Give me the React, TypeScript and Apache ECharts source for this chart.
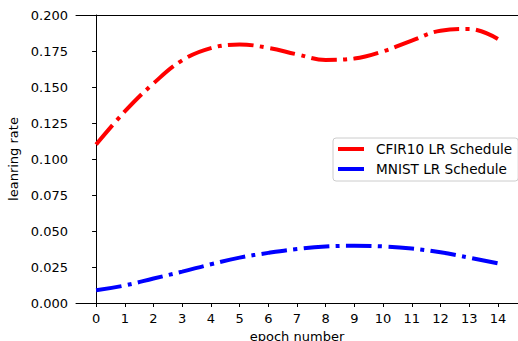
import React, { useEffect, useRef } from "react";
import * as echarts from "echarts";

const epochs = [0, 1, 2, 3, 4, 5, 6, 7, 8, 9, 10, 11, 12, 13, 14];
const cfir10 = [0.110, 0.133, 0.1525, 0.1685, 0.177, 0.1795, 0.1772, 0.1727, 0.1688, 0.1698, 0.1748, 0.1822, 0.1891, 0.1903, 0.1833];
const mnist = [0.0088, 0.0122, 0.0170, 0.0218, 0.0269, 0.0315, 0.0348, 0.0375, 0.0392, 0.0397, 0.0393, 0.0378, 0.0352, 0.0315, 0.0275];
const seriesNames = ["CFIR10 LR Schedule", "MNIST LR Schedule"];
const seriesColors = ["#ff0000", "#0000ff"];
const xTicks = [0, 1, 2, 3, 4, 5, 6, 7, 8, 9, 10, 11, 12, 13, 14];

const FONT = "DejaVu Sans";
const FS = 13;

export default function App() {
  const ref = useRef<HTMLDivElement>(null);
  useEffect(() => {
    document.body.style.margin = "0";
    const chart = echarts.init(ref.current!, undefined, { renderer: "svg" });
    const lineStyle = (color: string) => ({
      color,
      width: 4,
      type: [25.6, 6.4, 4, 6.4],
      cap: "butt",
    });
    chart.setOption({
      animation: false,
      textStyle: { fontFamily: FONT },
      grid: { left: 76, right: 0, top: 15, bottom: 38, containLabel: false, outerBoundsMode: "none" },
      legend: {
        left: 333,
        top: 138,
        orient: "vertical",
        icon: "rect",
        itemWidth: 26,
        itemHeight: 4,
        itemGap: 6,
        padding: [4, 6, 5, 5],
        borderColor: "#cccccc",
        borderWidth: 1,
        borderRadius: 3,
        backgroundColor: "rgba(255,255,255,0.8)",
        textStyle: { fontFamily: FONT, fontSize: 13.6, color: "#000", lineHeight: 14, padding: [0, 0, 0, 7] },
        data: seriesNames,
      },
      xAxis: [
        {
          type: "value",
          min: -0.7,
          max: 14.7,
          name: "epoch number",
          nameLocation: "middle",
          nameGap: 27,
          nameTextStyle: { fontFamily: FONT, fontSize: FS, color: "#000" },
          axisLine: { show: true, lineStyle: { color: "#000", width: 1 } },
          axisTick: { show: true, length: 4, customValues: xTicks, lineStyle: { color: "#000", width: 1 } },
          axisLabel: { customValues: xTicks, margin: 9, fontFamily: FONT, fontSize: FS, color: "#000" },
          splitLine: { show: false },
        },
        {
          type: "value",
          position: "top",
          min: -0.7,
          max: 14.7,
          axisLine: { show: true, lineStyle: { color: "#000", width: 1 } },
          axisTick: { show: false },
          axisLabel: { show: false },
          splitLine: { show: false },
        },
      ],
      yAxis: {
        type: "value",
        min: 0,
        max: 0.2,
        interval: 0.025,
        name: "leanring rate",
        nameLocation: "middle",
        nameGap: 53,
        nameTextStyle: { fontFamily: FONT, fontSize: FS, color: "#000" },
        axisLine: { show: true, lineStyle: { color: "#000", width: 1 } },
        axisTick: { show: true, length: 4, lineStyle: { color: "#000", width: 1 } },
        axisLabel: {
          margin: 8,
          fontFamily: FONT,
          fontSize: FS,
          color: "#000",
          formatter: (v: number) => v.toFixed(3),
        },
        splitLine: { show: false },
      },
      series: [
        {
          name: seriesNames[0],
          type: "line",
          data: epochs.map((e, i) => [e, cfir10[i]]),
          smooth: 0.4,
          showSymbol: false,
          color: seriesColors[0],
          lineStyle: lineStyle(seriesColors[0]),
        },
        {
          name: seriesNames[1],
          type: "line",
          data: epochs.map((e, i) => [e, mnist[i]]),
          smooth: 0.4,
          showSymbol: false,
          color: seriesColors[1],
          lineStyle: lineStyle(seriesColors[1]),
        },
      ],
    });
    return () => chart.dispose();
  }, []);
  return <div ref={ref} style={{ width: 518, height: 341 }} />;
}
